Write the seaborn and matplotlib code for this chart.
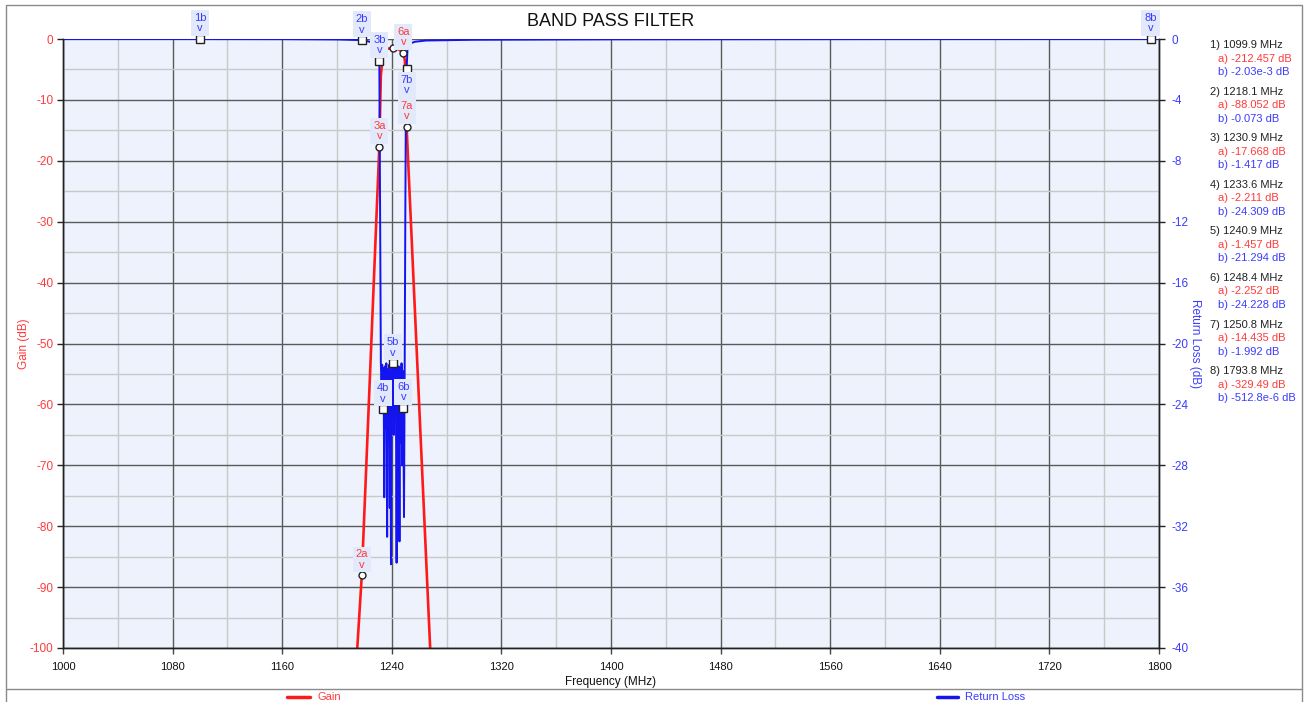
import numpy as np
import pandas as pd
import matplotlib
matplotlib.use('Agg')
import matplotlib.pyplot as plt
from matplotlib.lines import Line2D
from matplotlib.patches import Rectangle
from matplotlib.ticker import MultipleLocator
import seaborn as sns

# Gain trace (dB)
gain_freq = [1099.9, 1214.8, 1218.1, 1230.9, 1232.0, 1233.6, 1237.0, 1240.9,
             1245.0, 1248.4, 1249.6, 1250.8, 1268.0, 1793.8]
gain_db = [-212.457, -100.0, -88.052, -17.668, -6.0, -2.211, -1.6, -1.457,
           -1.7, -2.252, -3.6, -14.435, -100.0, -329.49]

# Return loss trace (dB)
rl_freq = [1000, 1099.9, 1160, 1200, 1218.1, 1224, 1228, 1230.0, 1230.9, 1231.5,
           1232.0, 1232.5, 1233.0, 1233.6, 1234.0, 1234.5, 1235.0, 1235.5, 1236.0,
           1236.6, 1237.1, 1237.6, 1238.1, 1238.5, 1238.9, 1239.4, 1239.9, 1240.4,
           1240.9, 1241.4, 1241.9, 1242.4, 1242.9, 1243.5, 1244.0, 1244.5, 1245.0,
           1245.6, 1246.1, 1246.6, 1247.1, 1247.6, 1248.0, 1248.4, 1248.9, 1249.4,
           1249.9, 1250.3, 1250.8, 1251.5, 1253, 1257, 1265, 1300, 1400, 1600,
           1793.8, 1800]
rl_db = [-0.0005, -0.00203, -0.008, -0.03, -0.073, -0.18, -0.45, -0.9, -1.417, -12.0,
         -21.2, -23.0, -21.4, -24.309, -21.6, -30.1, -21.5, -25.5, -21.3,
         -32.7, -21.7, -26.0, -21.4, -30.8, -21.8, -34.5, -21.5, -24.5,
         -21.294, -26.0, -21.6, -24.8, -21.4, -34.4, -21.7, -27.0, -21.5,
         -33.0, -21.6, -26.5, -21.3, -28.0, -21.8, -24.228, -31.4, -21.5,
         -11.0, -4.0, -1.992, -0.6, -0.3, -0.18, -0.1, -0.05, -0.02, -0.004,
         -0.0005128, -0.0005]

# Markers
marker_freq = [1099.9, 1218.1, 1230.9, 1233.6, 1240.9, 1248.4, 1250.8, 1793.8]
marker_gain = [-212.457, -88.052, -17.668, -2.211, -1.457, -2.252, -14.435, -329.49]
marker_rl = [-2.03e-3, -0.073, -1.417, -24.309, -21.294, -24.228, -1.992, -512.8e-6]
marker_gain_txt = ['-212.457', '-88.052', '-17.668', '-2.211', '-1.457', '-2.252',
                   '-14.435', '-329.49']
marker_rl_txt = ['-2.03e-3', '-0.073', '-1.417', '-24.309', '-21.294', '-24.228',
                 '-1.992', '-512.8e-6']

# axis ticks
freq_ticks = [1000, 1080, 1160, 1240, 1320, 1400, 1480, 1560, 1640, 1720, 1800]
freq_minor = [1040, 1120, 1200, 1280, 1360, 1440, 1520, 1600, 1680, 1760]

RED = '#ff1a1a'
BLUE = '#1414f0'
RED_TXT = '#ff3b3b'
BLUE_TXT = '#3b3bff'
W, H = 1307, 702

sns.set_style('white')
plt.rcParams['font.family'] = ['Liberation Sans', 'DejaVu Sans']
plt.rcParams['axes.unicode_minus'] = False

gain_df = pd.DataFrame({'freq': gain_freq, 'gain': gain_db})
rl_df = pd.DataFrame({'freq': rl_freq, 'rl': rl_db})

fig = plt.figure(figsize=(W / 100, H / 100), dpi=100)
ax = fig.add_axes([63 / W, 54 / H, 1096 / W, 609 / H])
ax.set_facecolor('#edf2fd')
ax2 = ax.twinx()

sns.lineplot(data=gain_df, x='freq', y='gain', ax=ax, color=RED, linewidth=1.9,
             estimator=None, sort=False, legend=False)
sns.lineplot(data=rl_df, x='freq', y='rl', ax=ax2, color=BLUE, linewidth=1.4,
             estimator=None, sort=False, legend=False)

ax.set_xlim(1000, 1800)
ax.set_ylim(-100, 0)
ax2.set_ylim(-40, 0)
ax.set_xticks(freq_ticks)
ax.set_xticks(freq_minor, minor=True)
ax.yaxis.set_major_locator(MultipleLocator(10))
ax.yaxis.set_minor_locator(MultipleLocator(5))
ax2.yaxis.set_major_locator(MultipleLocator(4))

ax.set_axisbelow(True)
ax.grid(which='major', color='#5a5a5a', linewidth=1.0)
ax.grid(which='minor', color='#c9c9c9', linewidth=1.0)
ax2.grid(False)

ax.tick_params(axis='y', which='major', labelcolor=RED_TXT, color='#222222',
               length=4, width=1, labelsize=8.5, pad=3, left=True)
ax.tick_params(axis='x', which='major', labelcolor='#111111', color='#444444',
               length=4, width=1, labelsize=8, pad=6, bottom=True)
ax.tick_params(which='minor', length=0)
ax2.tick_params(axis='y', which='major', labelcolor=BLUE_TXT, color='#222222',
                length=4, width=1, labelsize=8.5, pad=5, right=True)

for a in (ax, ax2):
    a.spines['top'].set_visible(False)
    for s in ('left', 'right', 'bottom'):
        a.spines[s].set_color('#222222')
        a.spines[s].set_linewidth(1.0)

ax.set_xlabel('Frequency (MHz)', fontsize=8.5, color='#111111', labelpad=3)
ax.set_ylabel('Gain (dB)', fontsize=8.5, color=RED_TXT, labelpad=0)
ax2.set_ylabel('Return Loss (dB)', fontsize=8.5, color=BLUE_TXT, rotation=270,
               labelpad=0, va='bottom')

# marker symbols
in_range = [i for i, g in enumerate(marker_gain) if g >= -100]
ax2.plot([marker_freq[i] for i in in_range], [marker_gain[i] for i in in_range],
         'o', ms=5, mfc='white', mec='#222222', mew=1.0, transform=ax.transData,
         zorder=5, clip_on=False)
ax2.plot(marker_freq, marker_rl, 's', ms=5.5, mfc='white', mec='#222222', mew=1.0,
         zorder=5, clip_on=False)

# marker labels (4a / 5a are hidden by overlap in the original, 1a / 8a off scale)
box = dict(boxstyle='square,pad=0.25', fc='#e2e9fb', ec='none')
b_labels = [0, 1, 2, 3, 4, 5, 6, 7]
a_labels = [1, 2, 5, 6]
for i in b_labels:
    below = (i == 6)
    ax2.annotate(f'{i + 1}b\nv', (marker_freq[i], marker_rl[i]),
                 xytext=(0, -4 if below else 4), textcoords='offset points',
                 ha='center', va='top' if below else 'bottom', fontsize=8,
                 color=BLUE_TXT, linespacing=1.05, bbox=box, zorder=6,
                 annotation_clip=False)
for i in a_labels:
    ax2.annotate(f'{i + 1}a\nv', (marker_freq[i], marker_gain[i]),
                 xycoords=ax.transData, xytext=(0, 4), textcoords='offset points',
                 ha='center', va='bottom', fontsize=8, color=RED_TXT,
                 linespacing=1.05, bbox=box, zorder=6, annotation_clip=False)

# marker readout on the right
for i, f in enumerate(marker_freq):
    y0 = 45 + i * 46.6
    fig.text(1210 / W, 1 - y0 / H, f'{i + 1}) {f} MHz', fontsize=8,
             color='#222222', va='center')
    fig.text(1218 / W, 1 - (y0 + 13.5) / H, f'a) {marker_gain_txt[i]} dB',
             fontsize=8, color=RED_TXT, va='center')
    fig.text(1218 / W, 1 - (y0 + 27) / H, f'b) {marker_rl_txt[i]} dB',
             fontsize=8, color=BLUE_TXT, va='center')

fig.text(611 / W, 1 - 22 / H, 'BAND PASS FILTER', fontsize=13, ha='center',
         va='center', color='#111111')

# frame and legend strip
fig.add_artist(Rectangle((6 / W, -0.01), 1296 / W, 1.01 - 5 / H, fill=False,
                         ec='#8a8a8a', lw=1.0, transform=fig.transFigure))
fig.add_artist(Line2D([6 / W, 1302 / W], [1 - 689 / H] * 2, color='#8a8a8a', lw=1.0,
                      transform=fig.transFigure))
fig.add_artist(Line2D([287 / W, 310 / W], [1 - 697 / H] * 2, color=RED, lw=2.5,
                      transform=fig.transFigure))
fig.text(317 / W, 1 - 697 / H, 'Gain', fontsize=8, color=RED_TXT, va='center')
fig.add_artist(Line2D([937 / W, 958 / W], [1 - 697 / H] * 2, color=BLUE, lw=2.5,
                      transform=fig.transFigure))
fig.text(965 / W, 1 - 697 / H, 'Return Loss', fontsize=8, color=BLUE_TXT, va='center')

fig.savefig('out.png', dpi=100)
